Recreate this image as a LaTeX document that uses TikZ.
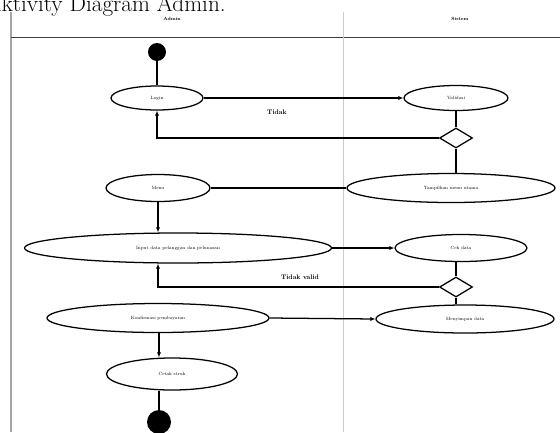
\documentclass[tikz,border=0pt]{standalone}
\usepackage{tikz}
\usetikzlibrary{shapes.geometric,arrows.meta}

\tikzset{
  act/.style 2 args={ellipse, draw, line width=1.8pt, inner sep=0pt,
    minimum width=#1*0.05cm, minimum height=#2*0.05cm,
    font=\fontsize{6.5}{7}\selectfont},
  cabang/.style={diamond, draw, line width=1.8pt, inner sep=0pt, aspect=1.6,
    minimum width=1.65cm, minimum height=1cm},
  alir/.style={line width=1.8pt},
  panah/.style={line width=1.8pt, -{Latex[length=7pt,width=6pt]}},
  ket/.style={font=\fontsize{9.5}{10}\selectfont\bfseries},
  kepala/.style={font=\fontsize{6.5}{7}\selectfont\bfseries}
}

\begin{document}
\begin{tikzpicture}[x=0.05cm, y=-0.05cm]
\useasboundingbox (0,0) rectangle (560,432);
% Title, cut at the top edge as in the source
\node[anchor=base west, font=\fontsize{33}{36}\selectfont] (judul) at (-17,11) {Aktivity Diagram Admin.};
% Swimlanes
\draw[gray!70, line width=1.8pt] (11,12) -- (11,432);
\draw[black!75, line width=1.2pt] (11,37) -- (560,37);
\draw[gray!40, line width=0.8pt] (343,12) -- (343,432);
\node[kepala] (admin) at (172,19) {Admin};
\node[kepala] (sistem) at (460,19) {Sistem};

% Admin lane
\fill (157,52) circle (9) coordinate (mulai);
\node[act={92}{24}] (login) at (157,98) {Login};
\node[act={104}{27}] (menu) at (158,188) {Menu};
\node[act={307}{30}] (input) at (178,248) {Input data pelanggan dan pelunasan};
\node[act={222}{29}] (konfirmasi) at (158,318) {Konfirmasi pembayaran};
\node[act={131}{32}] (cetak) at (172,374) {Cetak struk};
\fill (159,422) circle (12) coordinate (selesai);

% Sistem lane
\node[act={104}{25}] (validasi) at (456,98) {Validasi};
\node[cabang] (cek1) at (456,138) {};
\node[act={208}{29}] (tampil) at (451,188) {Tampilkan menu utama};
\node[act={132}{27}] (cekdata) at (461,248) {Cek data};
\node[cabang] (cek2) at (456,287) {};
\node[act={178}{28}] (simpan) at (465,319) {Menyimpan data};

% Flows
\draw[alir] (mulai) -- (login);
\draw[panah] (login) -- (validasi);
\draw[alir] (validasi.south -| cek1) -- (cek1);
\draw[panah] (cek1.west) -| (login.south);
\node[ket] (tidak) at (277,112) {Tidak};
\draw[alir] (cek1) -- (cek1 |- tampil.north);
\draw[alir] (tampil.west) -- (menu.east);
\draw[panah] (menu) -- (menu |- input.north);
\draw[panah] (input.east) -- (cekdata.west);
\draw[alir] (cekdata.south -| cek2) -- (cek2);
\draw[panah] (cek2.west) -| (menu.south |- input.south);
\node[ket] (tidakvalid) at (300,277) {Tidak valid};
\draw[alir] (cek2) -- (cek2 |- simpan.north);
\draw[panah] (konfirmasi.east) -- (simpan.west);
\draw[panah] (konfirmasi.south -| selesai) -- (selesai |- cetak.north);
\draw[alir] (selesai |- cetak.south) -- (selesai);
\end{tikzpicture}
\end{document}
